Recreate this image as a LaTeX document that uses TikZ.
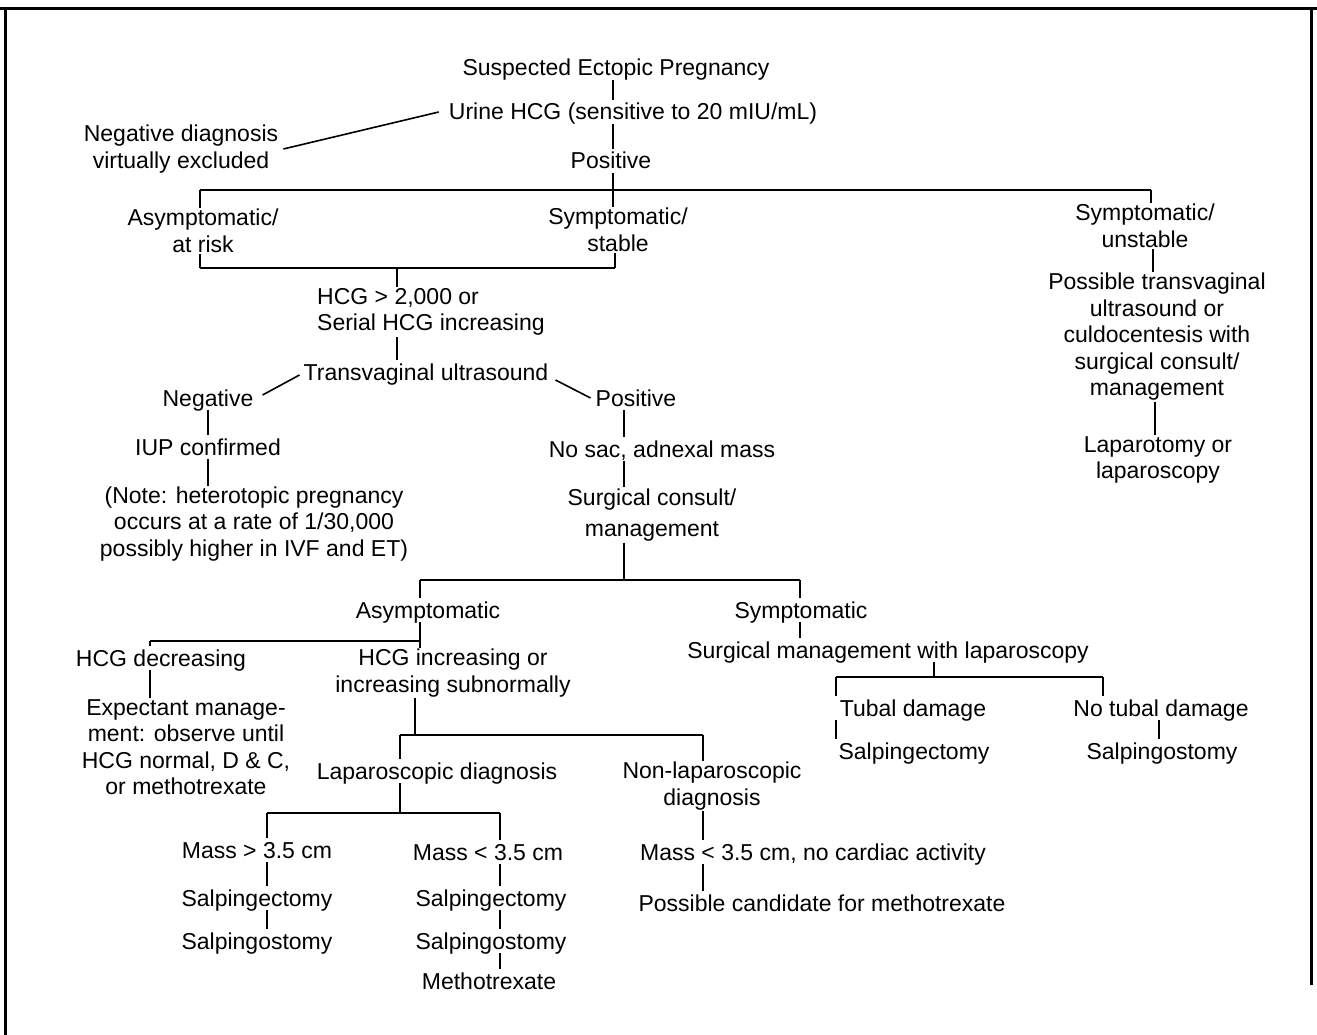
\documentclass[tikz,border=0pt]{standalone}
\usepackage{fontspec}
\setmainfont{Liberation Sans}
\usetikzlibrary{calc}
\begin{document}
\begin{tikzpicture}[x=1pt,y=-1pt,
  lbl/.style={inner sep=1pt, align=center, font=\fontsize{23}{26.5}\selectfont},
  one/.style={text height=19pt, text depth=3pt},
  lnk/.style={line width=1.6pt},
  barl/.style={line width=2.6pt},
  frm/.style={line width=3pt}]
\useasboundingbox (0,0) rectangle (1317,1035);
% frame
\draw[frm] (5,1035) -- (5,9);
\draw[frm] (0,9) -- (1317,9);
\draw[frm] (1311,9) -- (1311,985);

% nodes
\node[lbl,one] (susp) at (616,68) {Suspected Ectopic Pregnancy};
\node[lbl,one] (urine) at (633,112) {Urine HCG (sensitive to 20 mIU/mL)};
\node[lbl] (negdx) at (181,149) {Negative diagnosis\\virtually excluded};
\node[lbl,one] (pos1) at (611,161) {Positive};
\node[lbl] (asym1) at (203,231) {Asymptomatic/\\at risk};
\node[lbl] (symst) at (618,230) {Symptomatic/\\stable};
\node[lbl] (symun) at (1145,226) {Symptomatic/\\unstable};
\node[lbl,align=left,anchor=west] (hcg) at (316,312) {HCG > 2,000 or\\Serial HCG increasing};
\node[lbl,one] (tvus) at (426,372) {Transvaginal ultrasound};
\node[lbl,one] (neg2) at (208,398) {Negative};
\node[lbl,one] (pos2) at (636,398) {Positive};
\node[lbl,one] (iup) at (208,447) {IUP confirmed};
\node[lbl] (note) at (254,524) {(Note: heterotopic pregnancy\\occurs at a rate of 1/30,000\\possibly higher in IVF and ET)};
\node[lbl,one] (nosac) at (662,449) {No sac, adnexal mass};
\node[lbl] (surg) at (652,515) {Surgical consult/\\[5pt]management};
\node[lbl,one] (asym2) at (428,610) {Asymptomatic};
\node[lbl,one] (sym2) at (801,610) {Symptomatic};
\node[lbl,one] (hcgdec) at (161,658) {HCG decreasing};
\node[lbl] (hcginc) at (453,673) {HCG increasing or\\increasing subnormally};
\node[lbl] (expect) at (186,747) {Expectant manage-\\ment: observe until\\HCG normal, D \& C,\\or methotrexate};
\node[lbl,one] (lapdx) at (437,771) {Laparoscopic diagnosis};
\node[lbl] (nonlap) at (712,786) {Non-laparoscopic\\diagnosis};
\node[lbl,one] (massg) at (257,850) {Mass > 3.5 cm};
\node[lbl,one] (massl) at (488,852) {Mass < 3.5 cm};
\node[lbl,one] (salpe1) at (257,898) {Salpingectomy};
\node[lbl,one] (salpo1) at (257,941) {Salpingostomy};
\node[lbl,one] (salpe2) at (491,898) {Salpingectomy};
\node[lbl,one] (salpo2) at (491,941) {Salpingostomy};
\node[lbl,one] (metho) at (489,981) {Methotrexate};
\node[lbl,one] (massnc) at (813,852) {Mass < 3.5 cm, no cardiac activity};
\node[lbl,one] (possc) at (822,903) {Possible candidate for methotrexate};
\node[lbl,one] (surglap) at (888,650) {Surgical management with laparoscopy};
\node[lbl,one] (tubal) at (913,708) {Tubal damage};
\node[lbl,one] (notubal) at (1161,708) {No tubal damage};
\node[lbl,one] (salpe3) at (914,751) {Salpingectomy};
\node[lbl,one] (salpo3) at (1162,751) {Salpingostomy};
\node[lbl] (posstv) at (1157,337) {Possible transvaginal\\ultrasound or\\culdocentesis with\\surgical consult/\\management};
\node[lbl] (laparo) at (1158,460) {Laparotomy or\\laparoscopy};

% junctions
\coordinate (j1) at (613,190);
\coordinate (j1l) at (200,190);
\coordinate (j1r) at (1151,190);
\coordinate (k1l) at (200,268);
\coordinate (k1r) at (615,268);
\coordinate (j2) at (397,268);
\coordinate (j3) at (624,580);
\coordinate (j3l) at (420,580);
\coordinate (j3r) at (800,580);
\coordinate (j4a) at (420,641);
\coordinate (j4l) at (150,641);
\coordinate (j5) at (415,735);
\coordinate (j5l) at (400,735);
\coordinate (j5r) at (703,735);
\coordinate (j6) at (400,813);
\coordinate (j6l) at (267,813);
\coordinate (j6r) at (500,813);
\coordinate (j7) at (934,677);
\coordinate (j7l) at (836,677);
\coordinate (j7r) at (1103,677);

% connectors
\draw[lnk] (susp.south -| j1) -- (urine.north -| j1);
\draw[lnk] ($(urine.west)+(-9,0)$) -- ($(negdx.east)+(4,0)$);
\draw[lnk] (urine.south -| j1) -- (pos1.north -| j1);
\draw[lnk] (pos1.south -| j1) -- (j1);
\draw[barl] (j1l) -- (j1r);
\draw[lnk] (j1l) -- (asym1.north -| j1l);
\draw[lnk] (j1) -- (symst.north -| j1);
\draw[lnk] (j1r) -- (symun.north -| j1r);

\draw[lnk] (asym1.south -| k1l) -- (k1l);
\draw[lnk] (symst.south -| k1r) -- (k1r);
\draw[barl] (k1l) -- (k1r);
\draw[lnk] (j2) -- (hcg.north -| j2);
\draw[lnk] (hcg.south -| j2) -- (tvus.north -| j2);
\draw[lnk] ($(tvus.west)+(-3,3)$) -- ($(neg2.east)+(8,-3)$);
\draw[lnk] ($(tvus.east)+(6,8)$) -- ($(pos2.west)+(-4,0)$);

\draw[lnk] (neg2.south) -- (iup.north);
\draw[lnk] (iup.south) -- (note.north -| iup.south);
\draw[lnk] (pos2.south -| j3) -- (nosac.north -| j3);
\draw[lnk] (nosac.south -| j3) -- (surg.north -| j3);
\draw[lnk] (surg.south -| j3) -- (j3);
\draw[barl] (j3l) -- (j3r);
\draw[lnk] (j3l) -- (asym2.north -| j3l);
\draw[lnk] (j3r) -- (sym2.north -| j3r);

\draw[lnk] (asym2.south -| j4a) -- (hcginc.north -| j4a);
\draw[barl] (j4l) -- (j4a);
\draw[lnk] (j4l) -- (hcgdec.north -| j4l);
\draw[lnk] (hcgdec.south -| j4l) -- (expect.north -| j4l);

\draw[lnk] (hcginc.south -| j5) -- (j5);
\draw[barl] (j5l) -- (j5r);
\draw[lnk] (j5l) -- (lapdx.north -| j5l);
\draw[lnk] (j5r) -- (nonlap.north -| j5r);

\draw[lnk] (lapdx.south -| j6) -- (j6);
\draw[barl] (j6l) -- (j6r);
\draw[lnk] (j6l) -- (massg.north -| j6l);
\draw[lnk] (j6r) -- (massl.north -| j6r);
\draw[lnk] (massg.south -| j6l) -- (salpe1.north -| j6l);
\draw[lnk] (salpe1.south -| j6l) -- (salpo1.north -| j6l);
\draw[lnk] (massl.south -| j6r) -- (salpe2.north -| j6r);
\draw[lnk] (salpe2.south -| j6r) -- (salpo2.north -| j6r);
\draw[lnk] (salpo2.south -| j6r) -- (metho.north -| j6r);

\draw[lnk] (nonlap.south -| j5r) -- (massnc.north -| j5r);
\draw[lnk] (massnc.south -| j5r) -- (possc.north -| j5r);

\draw[lnk] (sym2.south -| j3r) -- (surglap.north -| j3r);
\draw[lnk] (surglap.south -| j7) -- (j7);
\draw[barl] (j7l) -- (j7r);
\draw[lnk] (j7l) -- (tubal.north -| j7l);
\draw[lnk] (j7r) -- (notubal.north -| j7r);
\draw[lnk] (tubal.south -| j7l) -- (salpe3.north -| j7l);
\draw[lnk] ([xshift=-2pt]notubal.south) -- ([xshift=-3pt]salpo3.north);

\draw[lnk] ([xshift=8pt]symun.south) -- ([xshift=-4pt]posstv.north);
\draw[lnk] ([xshift=-2pt]posstv.south) -- ([xshift=-3pt]laparo.north);
\end{tikzpicture}
\end{document}
